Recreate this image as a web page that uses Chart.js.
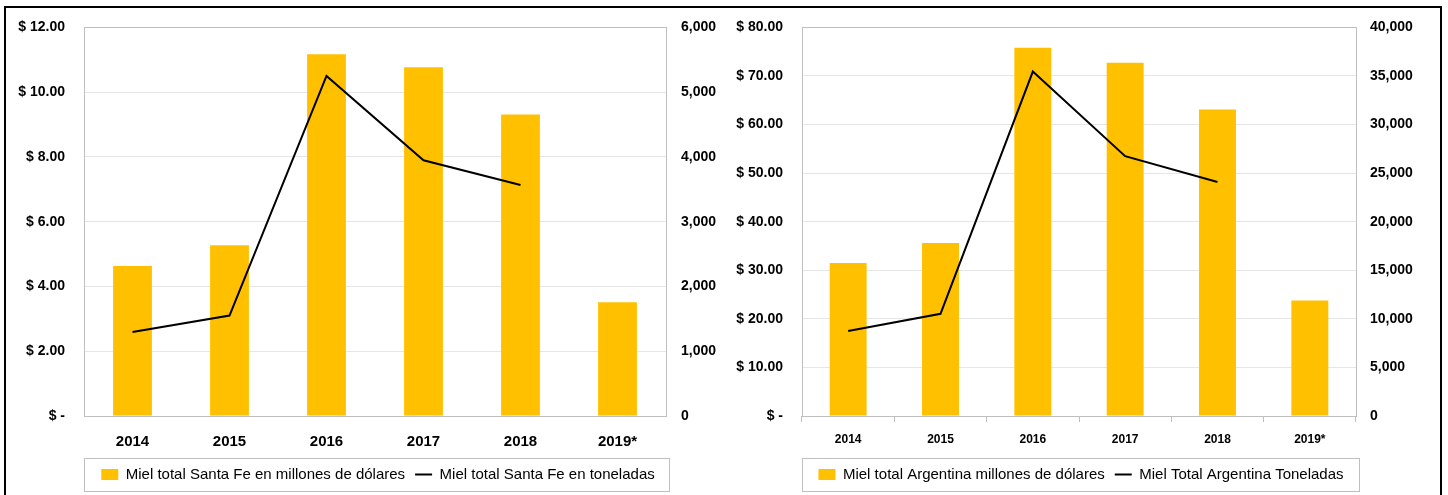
<!DOCTYPE html>
<html>
<head>
<meta charset="utf-8">
<script src="https://cdn.jsdelivr.net/npm/chart.js@4.4.1/dist/chart.umd.min.js"></script>
<style>
  body { margin: 0; background: #fff; }
  #wrap { position: relative; width: 1448px; height: 495px; overflow: hidden; }
  .box { position: absolute; top: 0; width: 724px; height: 495px; }
  #frame { position: absolute; left: 4px; top: 6px; width: 1434px; height: 520px; border: 2px solid #000; pointer-events: none; }
</style>
</head>
<body>
<div id="wrap">
  <div class="box" style="left:16px"><canvas id="santaFe"></canvas></div>
  <div class="box" style="left:719px"><canvas id="argentina"></canvas></div>
  <div id="frame"></div>
</div>
<script>
const years = ['2014', '2015', '2016', '2017', '2018', '2019*'];

// Santa Fe
const santaFeUsd = [4.63, 5.27, 11.17, 10.77, 9.31, 3.51];
const santaFeTon = [1296, 1551, 5250, 3949, 3566, null];
const santaFeUsdTicks = { max: 12, step: 2 };
const santaFeTonTicks = { max: 6000, step: 1000 };

// Argentina
const argUsd = [31.5, 35.6, 75.8, 72.7, 63.1, 23.8];
const argTon = [8740, 10520, 35450, 26740, 24080, null];
const argUsdTicks = { max: 80, step: 10 };
const argTonTicks = { max: 40000, step: 5000 };

const GOLD = '#FFC000';
const FONT = 'Liberation Sans, Arial, sans-serif';

// plot area border + legend box like the Excel original
const framePlugin = {
  id: 'framePlugin',
  afterDraw(chart) {
    const ctx = chart.ctx;
    const a = chart.chartArea;
    ctx.save();
    ctx.strokeStyle = '#bfbfbf';
    ctx.lineWidth = 1;
    ctx.strokeRect(Math.round(a.left) + 0.5, Math.round(a.top) + 0.5,
      Math.round(a.right - a.left), Math.round(a.bottom - a.top));
    const hb = chart.legend.legendHitBoxes;
    if (hb && hb.length) {
      const cy = hb[0].top + hb[0].height / 2;
      ctx.strokeRect(Math.round(a.left) + 0.5, Math.round(cy - 17) + 0.5,
        Math.round(a.right - a.left) + 3, 33);
    }
    ctx.restore();
  }
};

function money(v) {
  return v === 0 ? '$ -' : '$ ' + v.toFixed(2);
}

function makeChart(id, o) {
  return new Chart(document.getElementById(id), {
    data: {
      labels: years,
      datasets: [{
        type: 'bar',
        label: o.barLabel,
        data: o.usd,
        backgroundColor: GOLD,
        yAxisID: 'y',
        barPercentage: 0.4,
        categoryPercentage: 1,
        pointStyle: 'rect',
        order: 1
      }, {
        type: 'line',
        label: o.lineLabel,
        data: o.ton,
        borderColor: '#000',
        backgroundColor: '#000',
        borderWidth: 2,
        pointRadius: 0,
        tension: 0,
        yAxisID: 'y1',
        pointStyle: 'line',
        order: 0
      }]
    },
    options: {
      responsive: true,
      maintainAspectRatio: false,
      animation: false,
      layout: { padding: { left: o.padLeft, right: 0, top: 25, bottom: 3 } },
      plugins: {
        tooltip: { enabled: false },
        legend: {
          position: 'bottom',
          labels: {
            usePointStyle: true,
            pointStyleWidth: 17,
            boxHeight: 11,
            padding: 10,
            color: '#000',
            font: { family: FONT, size: 15 },
            sort: (a, b) => a.datasetIndex - b.datasetIndex
          }
        }
      },
      scales: {
        x: {
          offset: true,
          grid: {
            display: o.xTicks,
            drawOnChartArea: false,
            drawTicks: o.xTicks,
            tickLength: 6,
            color: '#bfbfbf'
          },
          border: { display: false },
          ticks: {
            color: '#000',
            padding: o.xPad,
            maxRotation: 0,
            font: { family: FONT, size: o.xFont, weight: 'bold' }
          },
          afterFit: s => { s.height = 41; }
        },
        y: {
          position: 'left',
          min: 0,
          max: o.usdTicks.max,
          grid: { color: '#e6e6e6', drawTicks: false },
          border: { display: false },
          ticks: {
            stepSize: o.usdTicks.step,
            padding: 19,
            color: '#000',
            font: { family: FONT, size: 14, weight: 'bold' },
            callback: v => money(v)
          },
          afterFit: s => { s.width = o.leftW; }
        },
        y1: {
          position: 'right',
          min: 0,
          max: o.tonTicks.max,
          grid: { display: false, drawTicks: false },
          border: { display: false },
          ticks: {
            stepSize: o.tonTicks.step,
            padding: o.rightPad,
            color: '#000',
            font: { family: FONT, size: 14, weight: 'bold' },
            callback: v => v.toLocaleString('en-US')
          },
          afterFit: s => { s.width = o.rightW; }
        }
      }
    },
    plugins: [framePlugin]
  });
}

makeChart('santaFe', {
  usd: santaFeUsd,
  ton: santaFeTon,
  usdTicks: santaFeUsdTicks,
  tonTicks: santaFeTonTicks,
  barLabel: 'Miel total Santa Fe en millones de dólares',
  lineLabel: 'Miel total Santa Fe en toneladas',
  padLeft: 0,
  leftW: 68,
  rightW: 74,
  rightPad: 15,
  xTicks: false,
  xPad: 17,
  xFont: 15
});

makeChart('argentina', {
  usd: argUsd,
  ton: argTon,
  usdTicks: argUsdTicks,
  tonTicks: argTonTicks,
  barLabel: 'Miel total Argentina millones de dólares',
  lineLabel: 'Miel Total Argentina Toneladas',
  padLeft: 0,
  leftW: 83,
  rightW: 87,
  rightPad: 14,
  xTicks: true,
  xPad: 10,
  xFont: 12
});
</script>
</body>
</html>
